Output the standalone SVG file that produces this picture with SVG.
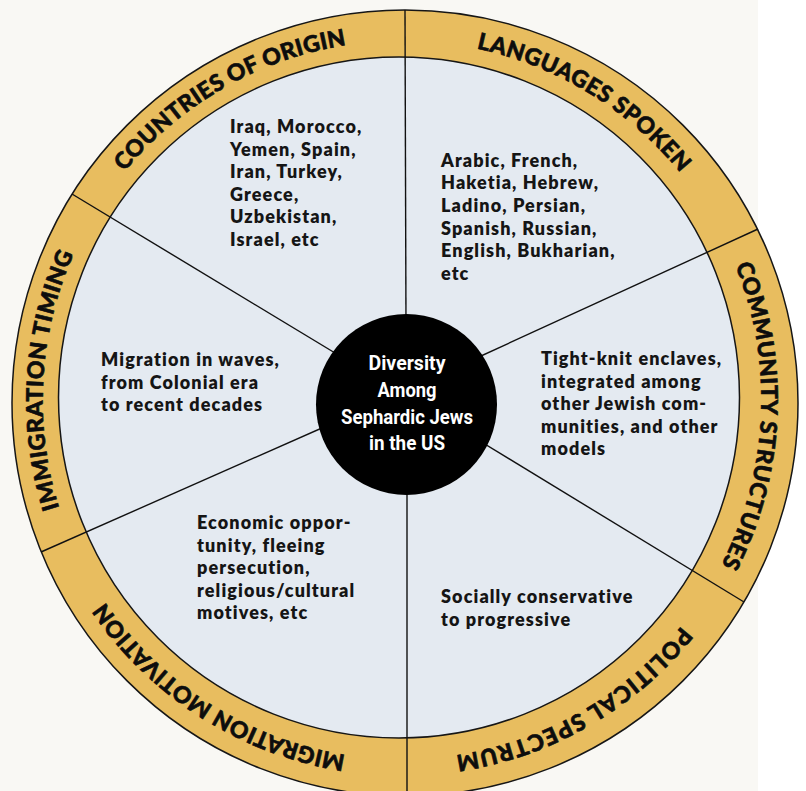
<svg xmlns="http://www.w3.org/2000/svg" width="806" height="791" viewBox="0 0 806 791">
<style>
.ring{fill:#E8BD5F;stroke:#161616;stroke-width:1.5}
.inner{fill:#E4EAF1;stroke:#161616;stroke-width:1.5}
.spoke{stroke:#111;stroke-width:1.4;fill:none}
.lbl{font-family:Lato,"Open Sans",sans-serif;font-weight:900;font-size:23px;fill:#0d0d0d;stroke:#0d0d0d;stroke-width:0.6px;text-anchor:middle}
.body{font-family:Lato,"Open Sans",sans-serif;font-weight:800;font-size:18px;fill:#151515;letter-spacing:1.1px}
.ctr{font-family:Roboto,"Liberation Sans",sans-serif;font-weight:700;font-size:21px;fill:#ffffff;text-anchor:middle}
</style>
<defs>
<path id="arc" d="M402,759.25 A359.25,359.25 0 1 1 402,40.75 A359.25,359.25 0 1 1 402,759.25 A359.25,359.25 0 1 1 402,40.75 A359.25,359.25 0 1 1 402,759.25"/>
</defs>
<rect x="0" y="0" width="758" height="791" fill="#F9F8F4"/>
<rect x="758" y="0" width="48" height="791" fill="#FFFFFF"/>
<circle class="ring" cx="405" cy="403" r="393"/>
<circle class="inner" cx="399" cy="397.5" r="340.5"/>
<g id="connectors">
<line class="spoke" x1="405" y1="10" x2="406" y2="330"/>
<line class="spoke" x1="758" y1="229" x2="470" y2="361"/>
<line class="spoke" x1="744" y1="602" x2="470" y2="435"/>
<line class="spoke" x1="407" y1="796" x2="407" y2="480"/>
<line class="spoke" x1="41" y1="552" x2="340" y2="420"/>
<line class="spoke" x1="72" y1="194" x2="345" y2="359"/>
</g>
<g id="center">
<circle cx="406.5" cy="404.5" r="90.5" fill="#000000"/>
<text class="ctr" x="407" y="369.5" textLength="77" lengthAdjust="spacingAndGlyphs">Diversity</text>
<text class="ctr" x="407" y="396.5" textLength="59" lengthAdjust="spacingAndGlyphs">Among</text>
<text class="ctr" x="407" y="423.5" textLength="132" lengthAdjust="spacingAndGlyphs">Sephardic Jews</text>
<text class="ctr" x="407" y="450" textLength="76" lengthAdjust="spacingAndGlyphs">in the US</text>
</g>
<g id="countries-of-origin">
<text class="lbl"><textPath href="#arc" startOffset="941.8" textLength="261">COUNTRIES OF ORIGIN</textPath></text>
<text class="body" x="230" y="133">Iraq, Morocco,</text>
<text class="body" x="230" y="155.5">Yemen, Spain,</text>
<text class="body" x="230" y="178">Iran, Turkey,</text>
<text class="body" x="230" y="200.5">Greece,</text>
<text class="body" x="230" y="223">Uzbekistan,</text>
<text class="body" x="230" y="245.5">Israel, etc</text>
</g>
<g id="languages-spoken">
<text class="lbl"><textPath href="#arc" startOffset="1324.8" textLength="243">LANGUAGES SPOKEN</textPath></text>
<text class="body" x="441" y="166.7">Arabic, French,</text>
<text class="body" x="441" y="189.3">Haketia, Hebrew,</text>
<text class="body" x="441" y="211.9">Ladino, Persian,</text>
<text class="body" x="441" y="234.5">Spanish, Russian,</text>
<text class="body" x="441" y="257.1">English, Bukharian,</text>
<text class="body" x="441" y="279.7">etc</text>
</g>
<g id="community-structures">
<text class="lbl"><textPath href="#arc" startOffset="1708.9" textLength="309">COMMUNITY STRUCTURES</textPath></text>
<text class="body" x="541" y="365">Tight-knit enclaves,</text>
<text class="body" x="541" y="387.5">integrated among</text>
<text class="body" x="541" y="410">other Jewish com-</text>
<text class="body" x="541" y="432.5">munities, and other</text>
<text class="body" x="541" y="455">models</text>
</g>
<g id="political-spectrum">
<text class="lbl"><textPath href="#arc" startOffset="2069.5" textLength="266">POLITICAL SPECTRUM</textPath></text>
<text class="body" x="441" y="603">Socially conservative</text>
<text class="body" x="441" y="625.5">to progressive</text>
</g>
<g id="migration-motivation">
<text class="lbl"><textPath href="#arc" startOffset="203.2" textLength="293">MIGRATION MOTIVATION</textPath></text>
<text class="body" x="197" y="529">Economic oppor-</text>
<text class="body" x="197" y="551.5">tunity, fleeing</text>
<text class="body" x="197" y="574">persecution,</text>
<text class="body" x="197" y="596.5">religious/cultural</text>
<text class="body" x="197" y="619">motives, etc</text>
</g>
<g id="immigration-timing">
<text class="lbl"><textPath href="#arc" startOffset="584.4" textLength="260">IMMIGRATION TIMING</textPath></text>
<text class="body" x="101" y="366">Migration in waves,</text>
<text class="body" x="101" y="388.5">from Colonial era</text>
<text class="body" x="101" y="411">to recent decades</text>
</g>
</svg>
